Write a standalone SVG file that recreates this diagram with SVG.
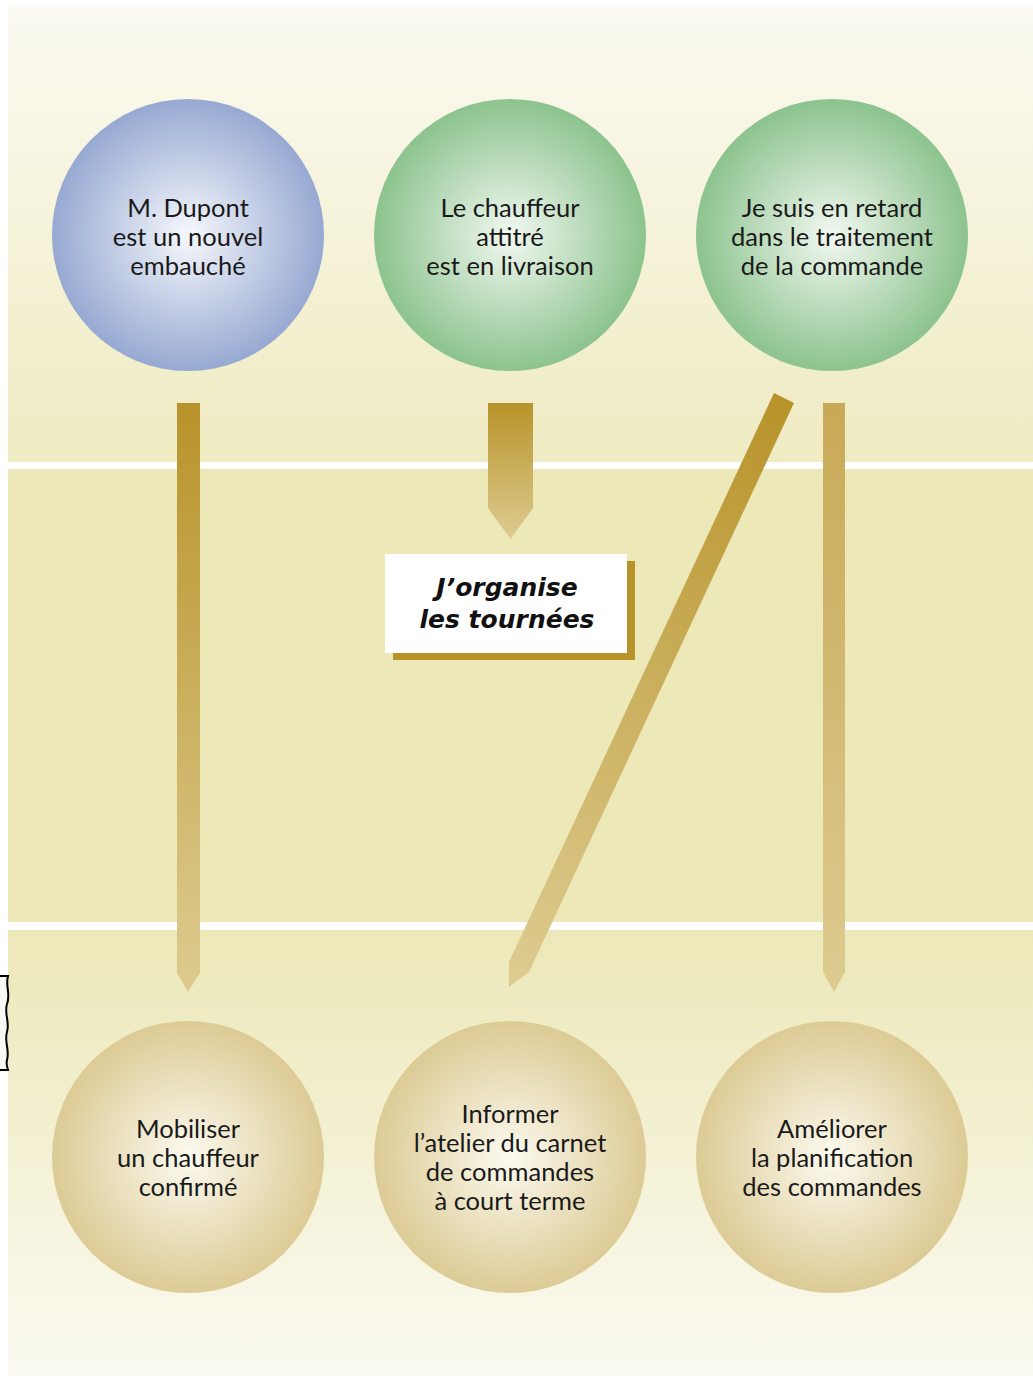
<svg xmlns="http://www.w3.org/2000/svg" width="1033" height="1378" viewBox="0 0 1033 1378">
<defs>
<linearGradient id="bgTop" x1="0" y1="0" x2="0" y2="1"><stop offset="0" stop-color="#fbfaf1"/><stop offset="1" stop-color="#efebc2"/></linearGradient>
<linearGradient id="bgBot" x1="0" y1="0" x2="0" y2="1"><stop offset="0" stop-color="#ece8b8"/><stop offset="1" stop-color="#fbfaf1"/></linearGradient>
<radialGradient id="gBlue" cx="0.5" cy="0.5" r="0.5"><stop offset="0" stop-color="#f6f8fc"/><stop offset="1" stop-color="#97a9d2"/></radialGradient>
<radialGradient id="gGreen" cx="0.5" cy="0.5" r="0.5"><stop offset="0" stop-color="#f2f8f1"/><stop offset="1" stop-color="#8cc38e"/></radialGradient>
<radialGradient id="gTan" cx="0.5" cy="0.5" r="0.5"><stop offset="0" stop-color="#fcfaf0"/><stop offset="1" stop-color="#dccb95"/></radialGradient>
<linearGradient id="arLong" gradientUnits="userSpaceOnUse" x1="0" y1="403" x2="0" y2="990"><stop offset="0" stop-color="#b8932a"/><stop offset="1" stop-color="#ddcb90"/></linearGradient>
<linearGradient id="arLight" gradientUnits="userSpaceOnUse" x1="0" y1="403" x2="0" y2="990"><stop offset="0" stop-color="#c8a957"/><stop offset="1" stop-color="#ddcb90"/></linearGradient>
<linearGradient id="arShort" gradientUnits="userSpaceOnUse" x1="0" y1="403" x2="0" y2="538"><stop offset="0" stop-color="#b8932a"/><stop offset="1" stop-color="#ddcb90"/></linearGradient>
<linearGradient id="arDiag" gradientUnits="userSpaceOnUse" x1="784" y1="398" x2="519" y2="980"><stop offset="0" stop-color="#b8932a"/><stop offset="1" stop-color="#ddcb90"/></linearGradient>
</defs>
<style>
.lbl{font-family:"Lato","Open Sans","Liberation Sans",sans-serif;font-size:25.5px;fill:#1a1a1a;text-anchor:middle}
.tag{font-family:"DejaVu Sans","Liberation Sans",sans-serif;font-size:25px;font-weight:bold;font-style:italic;fill:#111;text-anchor:middle}
</style>
<g id="background">
<rect x="8" y="7" width="1025" height="455" fill="url(#bgTop)"/>
<rect x="8" y="469" width="1025" height="453" fill="#ece8b8"/>
<rect x="8" y="930" width="1025" height="446" fill="url(#bgBot)"/>
</g>
<g id="bracket">
<path d="M0,976 H8 C5,986 11,994 7,1004 C4,1014 10,1022 7,1032 C4,1042 10,1050 7,1060 C6,1064 7,1067 8,1070 H0" fill="#f8f8f4" stroke="#000" stroke-width="2"/>
</g>
<g id="connectors">
<polygon points="177,403 200,403 200,973 188,992 177,973" fill="url(#arLong)"/>
<polygon points="488,403 533,403 533,508 510.5,539 488,508" fill="url(#arShort)"/>
<polygon points="774,393 794,403 529,972 509,987 509,962" fill="url(#arDiag)"/>
<polygon points="823,403 845,403 845,972 834,992 823,972" fill="url(#arLight)"/>
</g>
<g id="n1"><circle cx="188" cy="235" r="136" fill="url(#gBlue)"/>
<text class="lbl" x="188" y="217">M. Dupont</text><text class="lbl" x="188" y="246">est un nouvel</text><text class="lbl" x="188" y="275">embauché</text></g>
<g id="n2"><circle cx="510" cy="235" r="136" fill="url(#gGreen)"/>
<text class="lbl" x="510" y="217">Le chauffeur</text><text class="lbl" x="510" y="246">attitré</text><text class="lbl" x="510" y="275">est en livraison</text></g>
<g id="n3"><circle cx="832" cy="235" r="136" fill="url(#gGreen)"/>
<text class="lbl" x="832" y="217">Je suis en retard</text><text class="lbl" x="832" y="246">dans le traitement</text><text class="lbl" x="832" y="275">de la commande</text></g>
<g id="tag"><rect x="393" y="561" width="242" height="99" fill="#b8932a"/><rect x="385" y="554" width="242" height="99" fill="#fff"/>
<text class="tag" x="507" y="596">J’organise</text><text class="tag" x="507" y="628">les tournées</text></g>
<g id="n4"><circle cx="188" cy="1157" r="136" fill="url(#gTan)"/>
<text class="lbl" x="188" y="1138">Mobiliser</text><text class="lbl" x="188" y="1167">un chauffeur</text><text class="lbl" x="188" y="1196">confirmé</text></g>
<g id="n5"><circle cx="510" cy="1157" r="136" fill="url(#gTan)"/>
<text class="lbl" x="510" y="1123">Informer</text><text class="lbl" x="510" y="1152">l’atelier du carnet</text><text class="lbl" x="510" y="1181">de commandes</text><text class="lbl" x="510" y="1210">à court terme</text></g>
<g id="n6"><circle cx="832" cy="1157" r="136" fill="url(#gTan)"/>
<text class="lbl" x="832" y="1138">Améliorer</text><text class="lbl" x="832" y="1167">la planification</text><text class="lbl" x="832" y="1196">des commandes</text></g>
</svg>
